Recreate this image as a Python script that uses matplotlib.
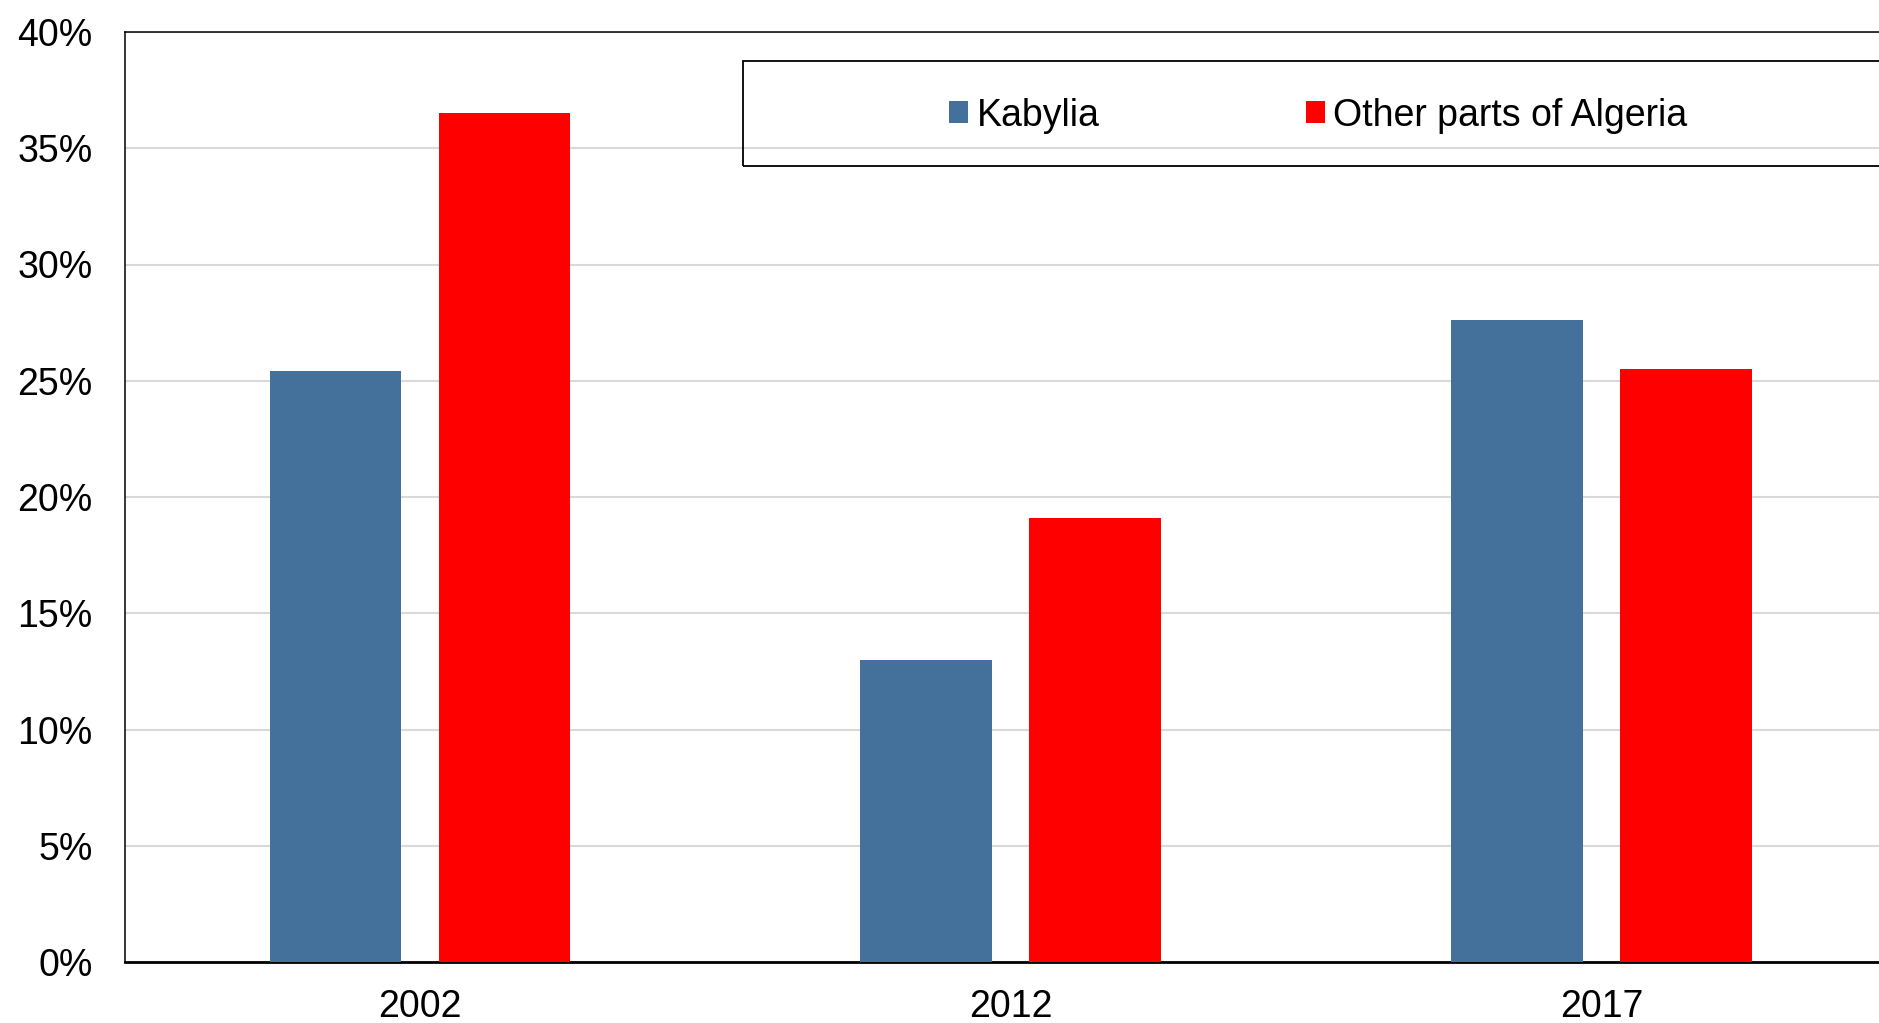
import numpy as np
import matplotlib
matplotlib.use('Agg')
import matplotlib.pyplot as plt
from matplotlib.patches import Rectangle
from matplotlib.ticker import FuncFormatter

years = ['2002', '2012', '2017']
kabylia = [25.4, 13.0, 27.6]
other = [36.5, 19.1, 25.5]
series_names = ['Kabylia', 'Other parts of Algeria']
clr_blue = '#43719c'
clr_red = '#ff0000'

plt.rcParams['font.family'] = ['Liberation Sans', 'DejaVu Sans']
font = 27

fig = plt.figure(figsize=(18.79, 10.23), dpi=100)
# axes run past the right edge of the figure, as in the original
ax = fig.add_axes([124.6 / 1879, 61 / 1023, 1772.4 / 1879, 930 / 1023])

x = np.arange(len(years))
w = 0.223
off = 0.143
b1 = ax.bar(x - off, kabylia, w, color=clr_blue, label=series_names[0], zorder=3)
b2 = ax.bar(x + off, other, w, color=clr_red, label=series_names[1], zorder=3)

ax.set_xlim(-0.5, 2.5)
ax.set_ylim(0, 40)
ax.set_yticks(range(0, 41, 5))
ax.yaxis.set_major_formatter(FuncFormatter(lambda v, p: f'{int(v)}%'))
ax.set_xticks(x, labels=years)
ax.tick_params(axis='both', length=0, labelsize=font)
ax.tick_params(axis='y', pad=23)
ax.tick_params(axis='x', pad=19.5)
ax.grid(axis='y', color='#d9d9d9', linewidth=1.5, zorder=0)
ax.set_axisbelow(True)
for s in ['left', 'top', 'right']:
    ax.spines[s].set_linewidth(1.1)
ax.spines['bottom'].set_linewidth(2.0)

# legend box (extends beyond the right edge)
frame = Rectangle((743 / 1879, (1023 - 165.7) / 1023), 1200 / 1879, 105 / 1023,
                  transform=fig.transFigure, fill=False, edgecolor='black',
                  linewidth=1.3, clip_on=False, zorder=5)
fig.patches.append(frame)
fig.legend(handles=[b1, b2], labels=series_names, loc='center',
           bbox_to_anchor=(1318 / 1879, 907.5 / 1023), ncol=2, frameon=False,
           fontsize=font, handlelength=0.51, handleheight=0.51,
           handletextpad=0.22, columnspacing=5.5)

fig.savefig('out.png', dpi=100)
